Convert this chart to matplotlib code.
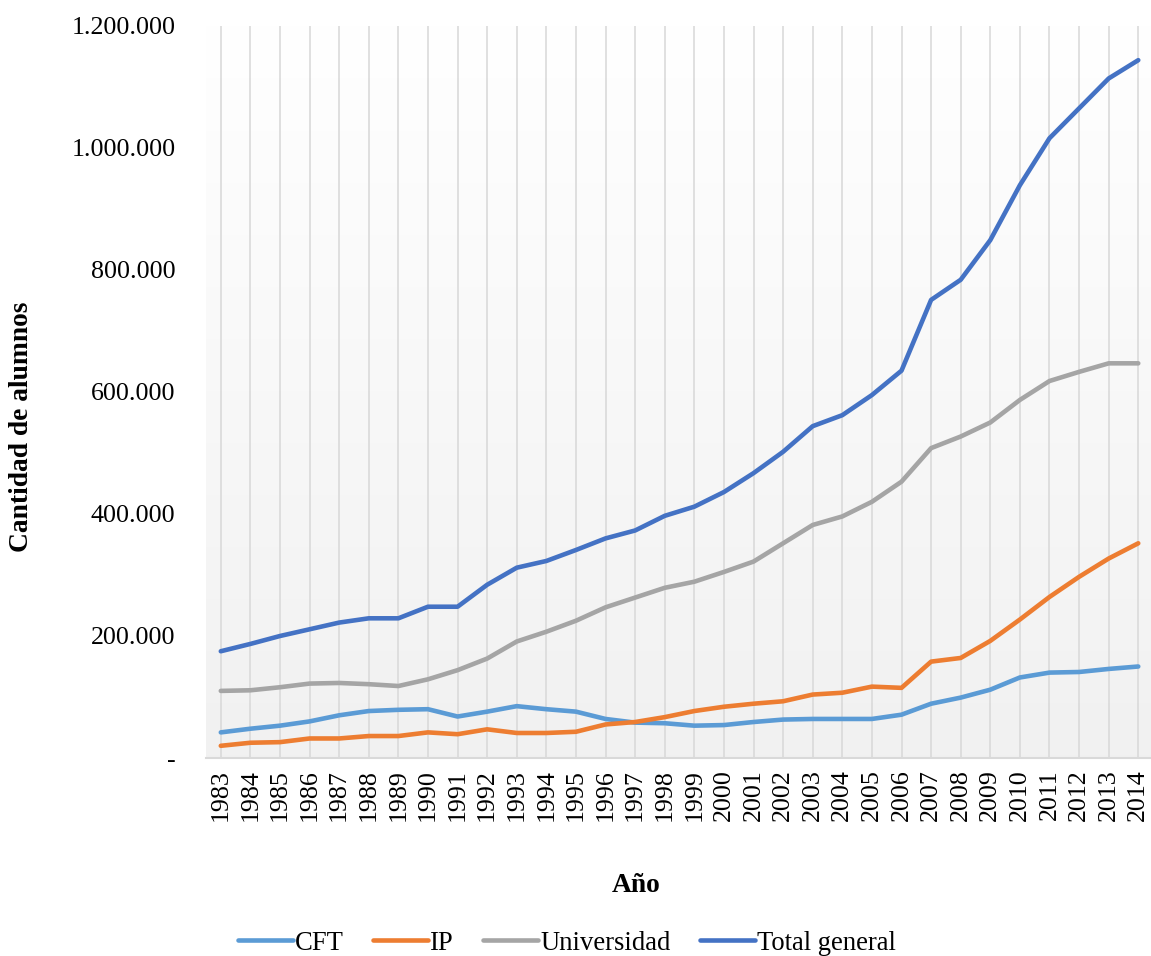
import numpy as np
import matplotlib.pyplot as plt
from matplotlib.ticker import FuncFormatter

plt.rcParams['font.family'] = ['Liberation Serif', 'DejaVu Serif']

years = list(range(1983, 2015))

cft = [42, 48, 53, 60, 70, 77, 79, 80, 68, 76, 85, 80, 76, 64, 58, 57,
       53, 54, 59, 63, 64, 64, 64, 71, 89, 99, 112, 132, 140, 141, 146, 150]
ip = [20, 25, 26, 32, 32, 36, 36, 42, 39, 47, 41, 41, 43, 55, 59, 67,
      77, 84, 89, 93, 104, 107, 117, 115, 158, 164, 192, 227, 264, 297, 327, 352]
universidad = [110, 111, 116, 122, 123, 121, 118, 129, 144, 163, 191, 207, 225, 247, 263, 279,
               289, 305, 322, 352, 382, 396, 420, 453, 508, 527, 550, 587, 618, 633, 647, 647]
total = [175, 187, 200, 211, 222, 229, 229, 248, 248, 284, 312, 323, 341, 360, 373, 397,
         412, 436, 467, 502, 544, 562, 595, 635, 751, 784, 849, 939, 1016, 1065, 1114, 1144]

series = [
    ("CFT", cft, "#5B9BD5"),
    ("IP", ip, "#ED7D31"),
    ("Universidad", universidad, "#A5A5A5"),
    ("Total general", total, "#4472C4"),
]

W, H = 1151, 956
fig = plt.figure(figsize=(W / 100, H / 100), dpi=100)
ax = fig.add_axes([206 / W, 1 - 758 / H, (1151 - 206) / W, (758 - 26) / H])

# soft vertical gradient behind the plot
grad = np.linspace(1.0, 0.945, 256).reshape(-1, 1)
ax.imshow(np.dstack([grad, grad, grad]), extent=[0, 1, 0, 1], transform=ax.transAxes,
          aspect='auto', zorder=0, interpolation='bicubic')

x = np.arange(len(years))
for name, vals, color in series:
    ax.plot(x, np.array(vals) * 1000, color=color, lw=3.3, label=name,
            solid_capstyle='round', solid_joinstyle='round', zorder=3)

ax.set_xlim(-0.5, 31.43)
ax.set_ylim(0, 1200000)
ax.set_xticks(x)
ax.set_xticklabels([str(y) for y in years], rotation=90, fontsize=18.7)
ax.set_yticks(np.arange(0, 1200001, 200000))
ax.yaxis.set_major_formatter(FuncFormatter(
    lambda v, p: "-" if v == 0 else f"{int(v):,}".replace(",", ".")))
ax.tick_params(axis='y', length=0, pad=22, labelsize=18.7)
ax.tick_params(axis='x', length=0, pad=8)

ax.grid(axis='x', color='#dadada', lw=1.2, zorder=1)
ax.set_axisbelow(True)
for s in ['top', 'right', 'left']:
    ax.spines[s].set_visible(False)
ax.spines['bottom'].set_color('#d9d9d9')
ax.spines['bottom'].set_linewidth(1.5)

fig.text(22 / W, 1 - 427 / H, "Cantidad de alumnos", rotation=90, fontsize=19.8,
         fontweight='bold', ha='center', va='center')
fig.text(636 / W, 1 - 886 / H, "Año", fontsize=19.8, fontweight='bold',
         ha='center', va='center')

fig.legend(loc='center', bbox_to_anchor=(567 / W, 1 - 943 / H), ncol=4, frameon=False,
           fontsize=19.2, handlelength=2.05, handletextpad=0.08, columnspacing=1.1)

fig.savefig("out.png", dpi=100)
